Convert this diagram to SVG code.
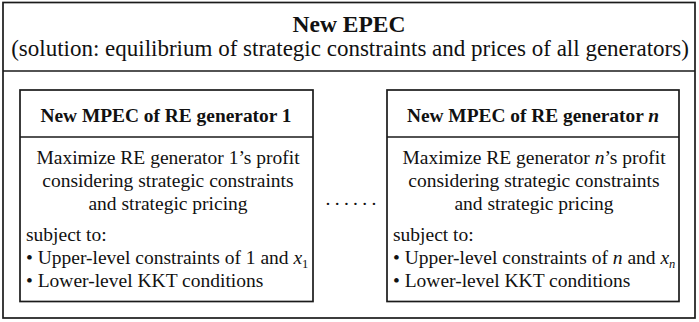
<svg xmlns="http://www.w3.org/2000/svg" width="699" height="322" viewBox="0 0 699 322">
<style>
.box{fill:#fff;stroke:#1a1a1a;stroke-width:1.7}
.ln{stroke:#1a1a1a;stroke-width:1.7;fill:none}
.t{font-size:23.5px;font-weight:bold;text-anchor:middle}
.s{font-size:23px;text-anchor:middle}
.h{font-size:19.4px;font-weight:bold;text-anchor:middle}
.b{font-size:19.5px}
.c{text-anchor:middle}
.i{font-style:italic}
.sub{font-size:12.5px}
</style>
<rect width="699" height="322" fill="#fff"/>
<g font-family="'Liberation Serif', 'Times New Roman', serif" fill="#111">
<g id="epec">
<rect class="box" x="3" y="2.5" width="692" height="315.5"/>
<line class="ln" x1="3" y1="71" x2="695" y2="71"/>
<text class="t" x="349" y="32">New EPEC</text>
<text class="s" x="350" y="56">(solution: equilibrium of strategic constraints and prices of all generators)</text>
</g>
<g id="mpec1">
<rect class="box" x="20" y="90" width="293" height="211.5"/>
<line class="ln" x1="20" y1="137" x2="313" y2="137"/>
<text class="h" x="166" y="122">New MPEC of RE generator 1</text>
<text class="b c" x="168" y="164">Maximize RE generator 1’s profit</text>
<text class="b c" x="168" y="187">considering strategic constraints</text>
<text class="b c" x="168" y="210">and strategic pricing</text>
<text class="b" x="26" y="241">subject to:</text>
<text class="b" x="26" y="264">• Upper-level constraints of 1 and <tspan class="i">x</tspan><tspan class="sub" dy="4">1</tspan></text>
<text class="b" x="26" y="287">• Lower-level KKT conditions</text>
</g>
<g id="dots">
<text class="b" x="325.6" y="205" letter-spacing="4.3">......</text>
</g>
<g id="mpecn">
<rect class="box" x="387" y="90" width="292" height="211.5"/>
<line class="ln" x1="387" y1="137" x2="679" y2="137"/>
<text class="h" x="533" y="122">New MPEC of RE generator <tspan class="i">n</tspan></text>
<text class="b c" x="534" y="164">Maximize RE generator <tspan class="i">n</tspan>’s profit</text>
<text class="b c" x="534" y="187">considering strategic constraints</text>
<text class="b c" x="534" y="210">and strategic pricing</text>
<text class="b" x="393" y="241">subject to:</text>
<text class="b" x="393" y="264">• Upper-level constraints of <tspan class="i">n</tspan> and <tspan class="i">x</tspan><tspan class="sub i" dy="4">n</tspan></text>
<text class="b" x="393" y="287">• Lower-level KKT conditions</text>
</g>
</g>
</svg>
